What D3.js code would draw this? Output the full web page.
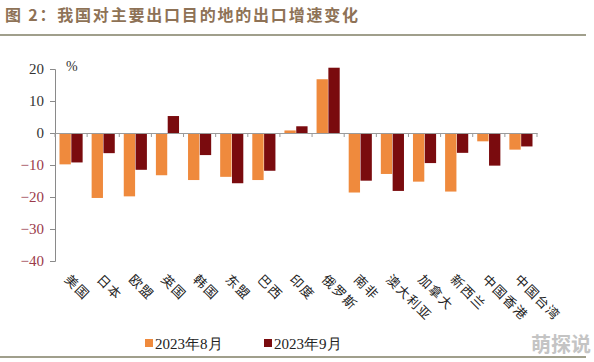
<!DOCTYPE html>
<html lang="zh">
<head>
<meta charset="UTF-8" />
<title>出口增速变化</title>
<script src="https://d3js.org/d3.v7.js"></script>
<style>
  body { margin: 0; background: #fff; }
</style>
</head>
<body>
<svg></svg>
<script>
// categories and series
const regions = ['美国', '日本', '欧盟', '英国', '韩国', '东盟', '巴西', '印度', '俄罗斯', '南非', '澳大利亚', '加拿大', '新西兰', '中国香港', '中国台湾'];
const aug2023 = [-9.8, -20.3, -19.8, -13.2, -14.7, -13.7, -14.7, 0.8, 16.8, -18.6, -12.8, -15.2, -18.3, -2.6, -5.2];
const sep2023 = [-9.2, -6.3, -11.5, 5.3, -6.9, -15.7, -11.8, 2.1, 20.4, -14.9, -18.1, -9.4, -6.2, -10.2, -4.2];
const seriesNames = ['2023年8月', '2023年9月'];
const yTicks = [20, 10, 0, -10, -20, -30, -40];

const width = 594, height = 362;
const colors = ['#ef8a3d', '#7a0b0e'];
const cjk = '"Noto Sans CJK SC", sans-serif';

const svg = d3.select('svg').attr('width', width).attr('height', height);

// title + rules
svg.append('text')
  .attr('x', 5).attr('y', 21)
  .style('font-family', cjk).style('font-size', '16px').style('font-weight', 'bold')
  .style('letter-spacing', '1.8px')
  .style('fill', '#8e7256')
  .text('图 2：我国对主要出口目的地的出口增速变化');
svg.append('line').attr('x1', 0).attr('x2', 586).attr('y1', 35).attr('y2', 35)
  .style('stroke', '#a09f8c').style('stroke-width', 2);
svg.append('line').attr('x1', 0).attr('x2', 586).attr('y1', 357).attr('y2', 357)
  .style('stroke', '#a09f8c').style('stroke-width', 2);

const x = d3.scaleBand().domain(regions).range([55, 537]).paddingInner(0.28).paddingOuter(0.14);
const xs = d3.scaleBand().domain([0, 1]).range([0, x.bandwidth()]).paddingInner(0.04);
const y = d3.scaleLinear().domain([-40, 20]).range([261, 69]);

// y axis
const yAxis = d3.axisLeft(y).tickValues(yTicks).tickSize(5).tickPadding(6);
const gy = svg.append('g').attr('transform', 'translate(55,0)').call(yAxis);
gy.select('.domain').style('stroke', '#8a8a8a');
gy.selectAll('.tick line').style('stroke', '#8a8a8a');
gy.selectAll('.tick text')
  .style('font-family', '"Liberation Serif", serif').style('font-size', '15px')
  .style('fill', d => d < 0 ? '#9b3a4a' : '#333');

svg.append('text').attr('x', 66).attr('y', 71)
  .style('font-family', '"Liberation Serif", serif').style('font-size', '14px').style('fill', '#333')
  .text('%');

// bars
const series = [aug2023, sep2023];
series.forEach((vals, s) => {
  svg.append('g').selectAll('rect')
    .data(vals)
    .join('rect')
    .attr('x', (d, i) => x(regions[i]) + xs(s))
    .attr('width', xs.bandwidth())
    .attr('y', d => y(Math.max(0, d)))
    .attr('height', d => Math.abs(y(d) - y(0)))
    .style('fill', colors[s]);
});

// zero line with category ticks
const xAxis = d3.axisBottom(x).tickSize(0).tickFormat('');
const gx = svg.append('g').attr('transform', 'translate(0,' + y(0) + ')').call(xAxis);
gx.select('.domain').style('stroke', '#9a9a9a');
gx.selectAll('.bound')
  .data(d3.range(regions.length + 1))
  .join('line')
  .attr('x1', i => 55 + i * x.step()).attr('x2', i => 55 + i * x.step())
  .attr('y1', 0).attr('y2', 4)
  .style('stroke', '#9a9a9a');

// category labels, rotated 45deg
svg.append('g').selectAll('text')
  .data(regions)
  .join('text')
  .attr('transform', d => 'translate(' + (x(d) + x.bandwidth() / 2 - 4) + ',277) rotate(45)')
  .style('font-family', cjk).style('font-size', '13px').style('fill', '#222')
  .style('letter-spacing', '1.5px')
  .attr('dy', '0.35em')
  .text(d => d);

// legend
const legendX = [145, 264];
seriesNames.forEach((name, s) => {
  svg.append('rect').attr('x', legendX[s]).attr('y', 339).attr('width', 8).attr('height', 8)
    .style('fill', colors[s]);
  svg.append('text').attr('x', legendX[s] + 10).attr('y', 349)
    .style('font-family', '"Liberation Serif", serif').style('font-size', '15px').style('fill', '#222')
    .text(name);
});

// watermark
svg.append('text').attr('x', 591).attr('y', 352).attr('text-anchor', 'end')
  .style('font-family', cjk).style('font-size', '20px').style('font-weight', 'bold')
  .style('fill', '#c4c4c4')
  .text('萌探说');
</script>
</body>
</html>
